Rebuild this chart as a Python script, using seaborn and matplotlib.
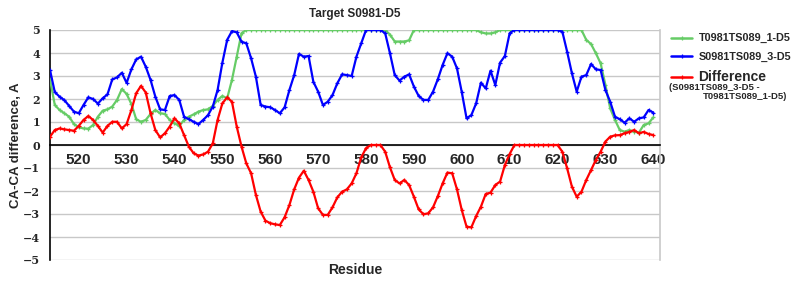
import numpy as np
import pandas as pd
import matplotlib
matplotlib.use("Agg")
import matplotlib.pyplot as plt
import seaborn as sns

residues = list(range(514, 641))

t0981_1 = [2.86, 1.74, 1.52, 1.38, 1.23, 0.91,
           0.77, 0.72, 0.71, 0.87, 1.23, 1.49, 1.55, 1.67, 1.96, 2.43,   # 520-529
           2.22, 1.78, 1.12, 1.01, 1.09, 1.35, 1.52, 1.38, 1.35, 1.09,   # 530-539
           0.94, 0.83, 1.09, 1.23, 1.33, 1.45, 1.52, 1.55, 1.70, 1.96,   # 540-549
           2.13, 2.03, 2.83, 3.84, 4.86, 5.00, 5.00, 5.00, 5.00, 5.00,   # 550-559
           5.00, 5.00, 5.00, 5.00, 5.00, 5.00, 5.00, 5.00, 5.00, 5.00,   # 560-569
           5.00, 5.00, 5.00, 5.00, 5.00, 5.00, 5.00, 5.00, 5.00, 5.00,   # 570-579
           5.00, 5.00, 5.00, 5.00, 5.00, 4.80, 4.50, 4.50, 4.50, 4.55,   # 580-589
           5.00, 5.00, 5.00, 5.00, 5.00, 5.00, 5.00, 5.00, 5.00, 5.00,   # 590-599
           5.00, 5.00, 5.00, 5.00, 4.90, 4.85, 4.85, 4.90, 5.00, 5.00,   # 600-609
           5.00, 5.00, 5.00, 5.00, 5.00, 5.00, 5.00, 5.00, 5.00, 5.00,   # 610-619
           5.00, 5.00, 5.00, 5.00, 5.00, 5.00, 4.57, 4.39, 3.99, 3.55,   # 620-629
           2.61, 1.59, 1.09, 0.65, 0.58, 0.65, 0.58, 0.54, 0.87, 0.94,   # 630-639
           1.20]                                                        # 640

s0981_3 = [3.26, 2.30, 2.10, 1.95, 1.70, 1.45,
           1.38, 1.74, 2.07, 2.00, 1.80, 2.03, 2.20, 2.85, 2.94, 3.14,   # 520-529
           2.70, 3.29, 3.72, 3.84, 3.40, 2.83, 2.10, 1.55, 1.52, 2.13,   # 530-539
           2.17, 1.96, 1.23, 1.12, 1.01, 0.91, 1.09, 1.30, 1.67, 2.39,   # 540-549
           3.58, 4.57, 4.95, 4.90, 4.49, 4.42, 3.77, 2.97, 1.74, 1.67,   # 550-559
           1.64, 1.52, 1.38, 1.64, 2.39, 3.04, 3.96, 3.84, 3.87, 2.75,   # 560-569
           2.32, 1.74, 1.88, 2.17, 2.68, 3.07, 3.04, 3.00, 3.84, 4.42,   # 570-579
           5.00, 5.00, 5.00, 5.00, 4.86, 3.99, 3.04, 2.80, 2.97, 3.07,   # 580-589
           2.54, 2.13, 1.96, 1.96, 2.32, 2.86, 3.48, 3.99, 3.84, 3.33,   # 590-599
           2.30, 1.16, 1.30, 1.81, 2.71, 2.46, 3.23, 2.61, 3.58, 3.87,   # 600-609
           4.86, 5.00, 5.00, 5.00, 5.00, 5.00, 5.00, 5.00, 5.00, 5.00,   # 610-619
           5.00, 4.93, 4.06, 3.12, 2.32, 2.97, 3.04, 3.52, 3.29, 3.26,   # 620-629
           2.39, 1.88, 1.23, 1.12, 0.97, 1.16, 1.01, 1.16, 1.20, 1.52,   # 630-639
           1.41]                                                        # 640

difference = [0.36, 0.65, 0.72, 0.68, 0.65, 0.62,
              0.83, 1.09, 1.26, 1.09, 0.83, 0.54, 0.83, 1.01, 1.01, 0.72,        # 520-529
              0.91, 1.52, 2.25, 2.57, 2.28, 1.38, 0.65, 0.33, 0.51, 0.80,        # 530-539
              1.16, 0.94, 0.43, -0.07, -0.36, -0.46, -0.41, -0.29, 0.07, 1.09,   # 540-549
              1.81, 2.07, 1.88, 0.80, -0.07, -0.80, -1.23, -2.17, -2.90, -3.29,  # 550-559
              -3.40, -3.45, -3.48, -3.14, -2.61, -1.93, -1.42, -1.12, -1.52, -2.03,  # 560-569
              -2.75, -3.04, -3.04, -2.71, -2.28, -2.03, -1.93, -1.67, -1.23, -0.54,  # 570-579
              -0.14, 0.00, 0.00, 0.00, -0.29, -0.97, -1.52, -1.67, -1.52, -1.74,     # 580-589
              -2.25, -2.80, -3.01, -2.97, -2.71, -2.22, -1.67, -1.20, -1.23, -1.93,  # 590-599
              -2.83, -3.55, -3.58, -3.09, -2.68, -2.13, -2.07, -1.74, -1.59, -0.87,  # 600-609
              -0.39, 0.00, 0.00, 0.00, 0.00, 0.00, 0.00, 0.00, 0.00, 0.00,           # 610-619
              0.00, -0.29, -1.01, -1.81, -2.25, -2.03, -1.52, -1.09, -0.65, -0.29,   # 620-629
              0.15, 0.36, 0.42, 0.43, 0.51, 0.57, 0.65, 0.51, 0.57, 0.48,            # 630-639
              0.43]                                                                 # 640

series_names = ["T0981TS089_1-D5", "S0981TS089_3-D5", "Difference"]
title = "Target S0981-D5"
x_ticks = list(range(520, 641, 10))
y_ticks = list(range(-5, 6))

df = pd.DataFrame({
    "Residue": residues * 3,
    "value": t0981_1 + s0981_3 + difference,
    "series": [series_names[0]] * len(residues) + [series_names[1]] * len(residues)
              + [series_names[2]] * len(residues),
})

sns.set_theme(style="white")
plt.rcParams["font.family"] = ["Liberation Sans", "DejaVu Sans"]
plt.rcParams["font.weight"] = "bold"
plt.rcParams["axes.titleweight"] = "bold"
plt.rcParams["axes.labelweight"] = "bold"

fig = plt.figure(figsize=(8, 3), dpi=100)
ax = fig.add_axes([50 / 800, 40 / 300, 610 / 800, 230 / 300])

palette = {series_names[0]: "#66cc66", series_names[1]: "#0000ff", series_names[2]: "#ff0000"}
for name in series_names:
    sub = df[df["series"] == name]
    sns.lineplot(data=sub, x="Residue", y="value", ax=ax, color=palette[name],
                 linewidth=1.6, marker="+", markersize=3.5, markeredgewidth=0.9,
                 markeredgecolor=palette[name], label=name, zorder=3)

ax.set_xlim(514, 641.4)
ax.set_ylim(-5, 5)
ax.set_yticks(y_ticks, labels=[str(v).replace("-", "\u2212") for v in y_ticks],
              fontfamily="DejaVu Serif", fontweight="bold", fontsize=8)
ax.set_xticks(x_ticks, labels=[str(v) for v in x_ticks],
              fontfamily="DejaVu Sans", fontweight="bold", fontsize=8.5)
ax.tick_params(axis="y", length=0, pad=7)
ax.tick_params(axis="x", length=4, width=1, color="#bbbbbb", direction="out", pad=2)

ax.grid(axis="y", color="#c8c8c8", linewidth=1)
ax.grid(axis="x", visible=False)
ax.set_axisbelow(True)

ax.spines["bottom"].set_position(("data", 0))
ax.spines["bottom"].set_color("black")
ax.spines["bottom"].set_linewidth(1.2)
ax.spines["left"].set_color("black")
ax.spines["left"].set_linewidth(1.2)
ax.spines["right"].set_color("#c8c8c8")
ax.spines["right"].set_linewidth(1.2)
ax.spines["top"].set_visible(False)

ax.set_ylabel("CA-CA difference, A", fontsize=9.5, fontweight="bold")
ax.yaxis.set_label_coords(-0.046, 0.5)
ax.set_xlabel("Residue", fontsize=10, fontweight="bold")
ax.xaxis.set_label_coords(0.5, -0.015)
ax.set_title(title, fontsize=8.5, fontweight="bold", pad=9)

leg = ax.legend(loc="upper left", bbox_to_anchor=(667 / 800, 1 - 29 / 300),
                bbox_transform=fig.transFigure, frameon=False,
                prop={"weight": "bold", "size": 7.8}, handlelength=1.9,
                handletextpad=0.6, labelspacing=0.75, borderaxespad=0)
leg.get_texts()[2].set_fontsize(10)
for line in leg.get_lines():
    line.set_linewidth(1.8)

fig.text(669 / 800, 1 - 87 / 300, "(S0981TS089_3-D5 -", fontsize=6.8,
         fontweight="bold", va="center", ha="left")
fig.text(703 / 800, 1 - 97 / 300, "T0981TS089_1-D5)", fontsize=6.8,
         fontweight="bold", va="center", ha="left")

fig.savefig("out.png", dpi=100)
